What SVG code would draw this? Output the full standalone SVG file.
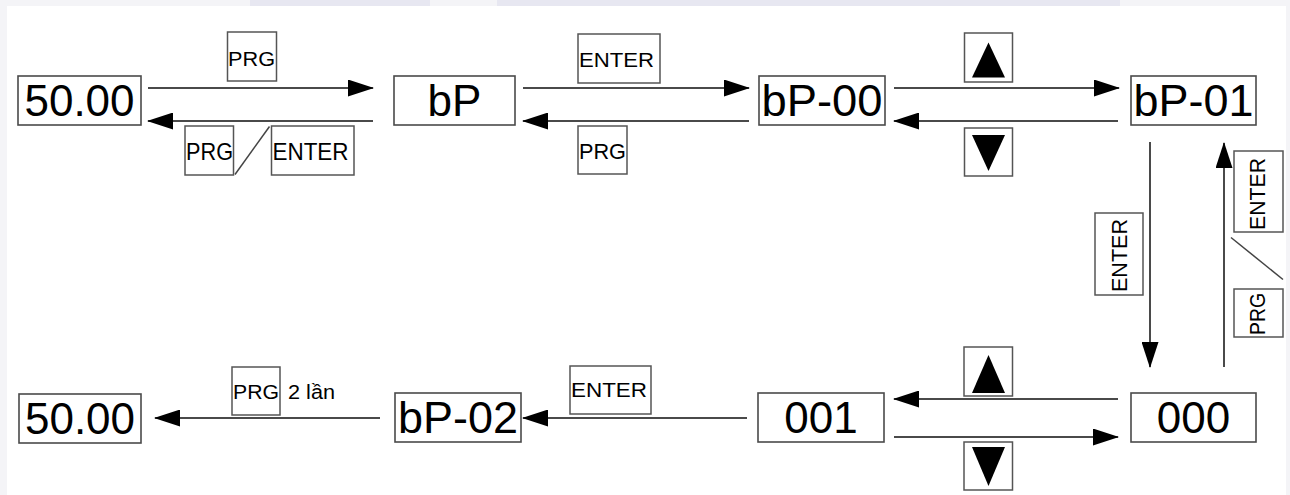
<svg xmlns="http://www.w3.org/2000/svg" width="1290" height="495" viewBox="0 0 1290 495">
<style>
.bg{fill:#f4f4f7}
.box{fill:#ffffff;stroke:#4a4a4a;stroke-width:1.6}
.key{fill:#ffffff;stroke:#555;stroke-width:1.5}
.big{font-family:"Liberation Sans",Arial,sans-serif;font-size:44px;fill:#000;text-anchor:middle}
.sm{font-family:"Liberation Sans",Arial,sans-serif;font-size:20px;fill:#000}
.sl{font-family:"Liberation Sans",Arial,sans-serif;font-size:24px;fill:#000}
.sv{font-family:"Liberation Sans",Arial,sans-serif;font-size:22px;fill:#000}
.ln{stroke:#4a4a4a;stroke-width:2;fill:none}
.tri{fill:#000}
</style>
<defs>
<marker id="ah" markerUnits="userSpaceOnUse" markerWidth="26" markerHeight="17" refX="25" refY="8.5" orient="auto">
<path d="M0,0 L26,8.5 L0,17 z" fill="#000"/>
</marker>
</defs>
<rect class="bg" x="0" y="0" width="1290" height="495"/>
<rect x="250" y="0" width="180" height="6" fill="#e7e7f1"/>
<rect x="497" y="0" width="623" height="6" fill="#e7e7f1"/>
<rect x="7" y="6" width="1279" height="489" fill="#ffffff"/>

<g id="connectors">
<line class="ln" x1="148" y1="88" x2="373" y2="88" marker-end="url(#ah)"/>
<line class="ln" x1="373" y1="121" x2="148" y2="121" marker-end="url(#ah)"/>
<line class="ln" x1="523" y1="88" x2="749" y2="88" marker-end="url(#ah)"/>
<line class="ln" x1="749" y1="121" x2="523" y2="121" marker-end="url(#ah)"/>
<line class="ln" x1="894" y1="88" x2="1119" y2="88" marker-end="url(#ah)"/>
<line class="ln" x1="1118" y1="121" x2="894" y2="121" marker-end="url(#ah)"/>
<line class="ln" x1="1150" y1="142" x2="1150" y2="367" marker-end="url(#ah)"/>
<line class="ln" x1="1224" y1="367" x2="1224" y2="143" marker-end="url(#ah)"/>
<line class="ln" x1="1118" y1="399" x2="894" y2="399" marker-end="url(#ah)"/>
<line class="ln" x1="894" y1="437" x2="1118" y2="437" marker-end="url(#ah)"/>
<line class="ln" x1="747" y1="418" x2="523" y2="418" marker-end="url(#ah)"/>
<line class="ln" x1="380" y1="418" x2="155" y2="418" marker-end="url(#ah)"/>
</g>

<g id="n-5000-top"><rect class="box" x="18" y="76" width="123" height="49"/><text class="big" x="79.5" y="116">50.00</text></g>
<g id="n-bP"><rect class="box" x="394" y="76" width="121" height="49"/><text class="big" x="454.5" y="116">bP</text></g>
<g id="n-bP00"><rect class="box" x="759" y="76" width="126" height="49"/><text class="big" x="822" y="116" textLength="121" lengthAdjust="spacingAndGlyphs">bP-00</text></g>
<g id="n-bP01"><rect class="box" x="1131" y="76" width="125" height="49"/><text class="big" x="1193.5" y="116" textLength="120" lengthAdjust="spacingAndGlyphs">bP-01</text></g>
<g id="n-000"><rect class="box" x="1131" y="393" width="125" height="49"/><text class="big" x="1193.5" y="433">000</text></g>
<g id="n-001"><rect class="box" x="758" y="393" width="126" height="49"/><text class="big" x="821" y="433">001</text></g>
<g id="n-bP02"><rect class="box" x="395" y="393" width="126" height="49"/><text class="big" x="458" y="433" textLength="120" lengthAdjust="spacingAndGlyphs">bP-02</text></g>
<g id="n-5000-bot"><rect class="box" x="19" y="394" width="122" height="49"/><text class="big" x="80" y="434">50.00</text></g>

<g id="k-prg1"><rect class="key" x="227.5" y="32" width="49" height="49"/><text class="sm" x="228" y="66" textLength="47" lengthAdjust="spacingAndGlyphs">PRG</text></g>
<g id="k-enter1"><rect class="key" x="578" y="34" width="82" height="49"/><text class="sm" x="579" y="67" textLength="75" lengthAdjust="spacingAndGlyphs">ENTER</text></g>
<g id="k-up1"><rect class="key" x="964.5" y="33" width="48" height="49"/><polygon class="tri" points="988.5,42.5 1005,77.5 972,77.5"/></g>
<g id="k-prg-enter"><rect class="key" x="185" y="126" width="48.5" height="49"/><text class="sl" x="186" y="159.5" textLength="47" lengthAdjust="spacingAndGlyphs">PRG</text>
<line x1="235" y1="174.5" x2="269.5" y2="126.5" stroke="#444" stroke-width="1.5"/>
<rect class="key" x="271.5" y="126" width="82.5" height="49"/><text class="sl" x="272.5" y="159.5" textLength="76" lengthAdjust="spacingAndGlyphs">ENTER</text></g>
<g id="k-prg2"><rect class="key" x="578" y="126" width="49" height="48"/><text class="sv" x="579" y="158.5" textLength="47" lengthAdjust="spacingAndGlyphs">PRG</text></g>
<g id="k-down1"><rect class="key" x="964.5" y="128" width="48" height="48"/><polygon class="tri" points="972,135 1005,135 988.5,171"/></g>
<g id="k-enter-v1"><rect class="key" x="1095" y="213" width="48" height="82"/><text class="sv" transform="translate(1127,292) rotate(-90)" textLength="73" lengthAdjust="spacingAndGlyphs">ENTER</text></g>
<g id="k-enter-prg-v"><rect class="key" x="1234" y="151" width="49" height="81"/><text class="sv" transform="translate(1265,230) rotate(-90)" textLength="72" lengthAdjust="spacingAndGlyphs">ENTER</text>
<line x1="1231" y1="237.5" x2="1283" y2="279.5" stroke="#444" stroke-width="1.5"/>
<rect class="key" x="1234" y="289" width="49" height="48"/><text class="sv" transform="translate(1265,335) rotate(-90)" textLength="42" lengthAdjust="spacingAndGlyphs">PRG</text></g>
<g id="k-up2"><rect class="key" x="964" y="347" width="48.5" height="49"/><polygon class="tri" points="988.5,355 1005,393 972,393"/></g>
<g id="k-down2"><rect class="key" x="964" y="442" width="48.5" height="48"/><polygon class="tri" points="972,447 1005,447 988.5,486"/></g>
<g id="k-enter3"><rect class="key" x="570" y="366" width="81" height="48"/><text class="sm" x="571" y="397" textLength="76" lengthAdjust="spacingAndGlyphs">ENTER</text></g>
<g id="k-prg3"><rect class="key" x="232" y="367" width="48" height="48"/><text class="sm" x="233" y="399" textLength="46" lengthAdjust="spacingAndGlyphs">PRG</text><text class="sm" x="288" y="399" textLength="47" lengthAdjust="spacingAndGlyphs">2 lần</text></g>
</svg>
